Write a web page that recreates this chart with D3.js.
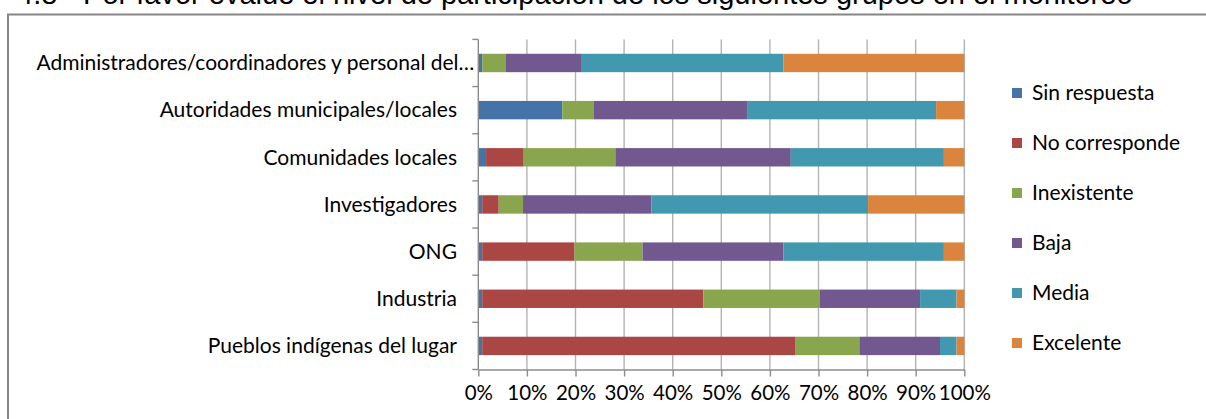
<!DOCTYPE html>
<html>
<head>
<meta charset="utf-8">
<script src="https://cdn.jsdelivr.net/npm/d3@7"></script>
<style>
  html, body { margin: 0; padding: 0; background: #fff; }
  svg { display: block; }
</style>
</head>
<body>
<svg id="chart" width="1206" height="419"></svg>
<script>
// ---- data ----
const title = "4.8 - Por favor evalúe el nivel de participación de los siguientes grupos en el monitoreo";
const categories = [
  "Administradores/coordinadores y personal del…",
  "Autoridades municipales/locales",
  "Comunidades locales ",
  "Investigadores",
  "ONG",
  "Industria",
  "Pueblos indígenas del lugar"
];
const seriesNames = ["Sin respuesta", "No corresponde", "Inexistente", "Baja", "Media", "Excelente"];
const sinRespuesta  = [0.8, 17.3, 1.6, 0.8, 0.8, 0.8, 0.8];
const noCorresponde = [0.0, 0.0, 7.6, 3.4, 19.0, 45.5, 64.5];
const inexistente   = [4.9, 6.5, 19.0, 5.0, 14.0, 23.9, 13.1];
const baja          = [15.6, 31.5, 36.1, 26.4, 29.0, 20.7, 16.6];
const media         = [41.5, 38.9, 31.5, 44.6, 33.0, 7.5, 3.4];
const excelente     = [37.2, 5.8, 4.2, 19.8, 4.2, 1.6, 1.6];
const tickValues = [0, 0.1, 0.2, 0.3, 0.4, 0.5, 0.6, 0.7, 0.8, 0.9, 1.0];
const colors = ["#4572A7", "#AA4643", "#89A54E", "#71588F", "#4198AF", "#DB843D"];

// ---- build table ----
const seriesValues = [sinRespuesta, noCorresponde, inexistente, baja, media, excelente];
const table = categories.map((c, i) => {
  const row = { category: c };
  seriesNames.forEach((s, j) => row[s] = seriesValues[j][i]);
  return row;
});
const stacked = d3.stack().keys(seriesNames).offset(d3.stackOffsetExpand)(table);

// ---- layout ----
const FONT = "Lato, 'Open Sans', sans-serif";
const svg = d3.select("#chart");
const plot = { left: 478.3, right: 964.3, top: 39.4, bottom: 369.5 };
const x = d3.scaleLinear().domain([0, 1]).range([plot.left, plot.right]);
const y = d3.scaleBand().domain(categories).range([plot.top, plot.bottom])
  .paddingInner(0.61).paddingOuter(0.305);
const color = d3.scaleOrdinal().domain(seriesNames).range(colors);

// title (cut off at top, as in the reference)
svg.append("text")
  .attr("x", 17).attr("y", 4)
  .attr("font-family", "'Liberation Sans', Arial, sans-serif")
  .attr("font-size", 29)
  .attr("fill", "#000")
  .text(title);

// frame
svg.append("rect")
  .attr("x", 8).attr("y", 14.5)
  .attr("width", 1210).attr("height", 420)
  .attr("fill", "none")
  .attr("stroke", "#868686").attr("stroke-width", 2);

// gridlines
svg.append("g")
  .selectAll("line")
  .data(tickValues.slice(1))
  .join("line")
  .attr("x1", d => x(d)).attr("x2", d => x(d))
  .attr("y1", plot.top).attr("y2", plot.bottom)
  .attr("stroke", "#b3b3b3").attr("stroke-width", 1.4);

// bars
svg.append("g")
  .selectAll("g")
  .data(stacked)
  .join("g")
  .attr("fill", d => color(d.key))
  .selectAll("rect")
  .data(d => d)
  .join("rect")
  .attr("x", d => x(d[0]))
  .attr("width", d => Math.max(0, x(d[1]) - x(d[0])))
  .attr("y", d => y(d.data.category))
  .attr("height", y.bandwidth());

// x axis
const xAxis = d3.axisBottom(x).tickValues(tickValues)
  .tickFormat(d3.format(".0%")).tickSize(7).tickSizeOuter(0).tickPadding(9);
const gx = svg.append("g").attr("transform", `translate(0,${plot.bottom})`).call(xAxis);
gx.select(".domain").attr("stroke", "#8c8c8c").attr("stroke-width", 1.4);
gx.selectAll(".tick line").attr("stroke", "#8c8c8c").attr("stroke-width", 1.4);
gx.selectAll(".tick text")
  .attr("font-family", FONT)
  .attr("font-size", 20.5).attr("fill", "#000");

// y axis line + boundary ticks
svg.append("line")
  .attr("x1", plot.left).attr("x2", plot.left)
  .attr("y1", plot.top).attr("y2", plot.bottom)
  .attr("stroke", "#8c8c8c").attr("stroke-width", 1.4);
const step = y.step();
const boundaries = d3.range(categories.length + 1).map(i => plot.top + i * step);
svg.append("g").selectAll("line")
  .data(boundaries)
  .join("line")
  .attr("x1", plot.left - 6).attr("x2", plot.left)
  .attr("y1", d => d).attr("y2", d => d)
  .attr("stroke", "#8c8c8c").attr("stroke-width", 1.4);

// category labels
svg.append("g").selectAll("text")
  .data(categories)
  .join("text")
  .attr("x", d => d.endsWith("…") ? plot.left - 4 : 457)
  .attr("y", d => y(d) + y.bandwidth() / 2)
  .attr("dy", "0.35em")
  .attr("text-anchor", "end")
  .attr("font-family", FONT)
  .attr("font-size", 21)
  .attr("fill", "#000")
  .text(d => d);

// legend
const legend = svg.append("g").selectAll("g")
  .data(seriesNames)
  .join("g")
  .attr("transform", (d, i) => `translate(1012,${93 + i * 50})`);
legend.append("rect")
  .attr("x", 0).attr("y", -5).attr("width", 10).attr("height", 10)
  .attr("fill", d => color(d));
legend.append("text")
  .attr("x", 20).attr("y", 0).attr("dy", "0.35em")
  .attr("font-family", FONT)
  .attr("font-size", 21).attr("fill", "#000")
  .text(d => d);
</script>
</body>
</html>
